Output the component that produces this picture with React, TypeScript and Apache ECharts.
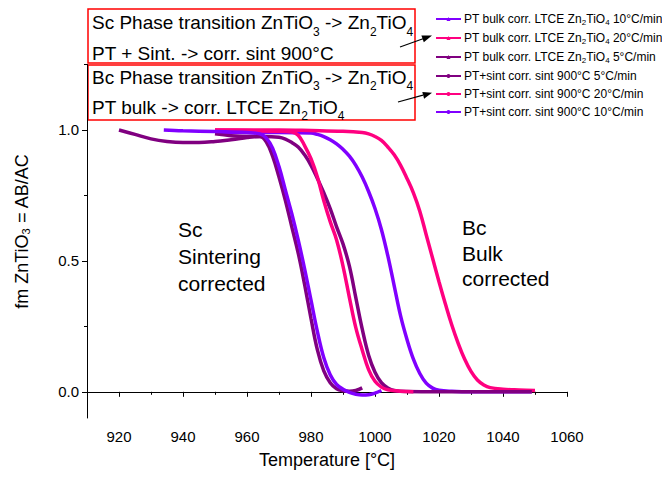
import React, { useEffect, useRef } from "react";
import * as echarts from "echarts";

// ---- data (temperature [°C], fm ZnTiO3) ----
const bulk10T = [950, 960, 970, 980, 982, 984, 986, 988, 990, 992, 994, 996, 998, 1000, 1002, 1004, 1006, 1008, 1010, 1012, 1014, 1016, 1018, 1020, 1024, 1030, 1040, 1049];
const bulk10V = [0.99, 0.99, 0.99, 0.988, 0.983, 0.975, 0.963, 0.947, 0.926, 0.9, 0.865, 0.82, 0.765, 0.7, 0.62, 0.52, 0.405, 0.29, 0.2, 0.125, 0.07, 0.033, 0.014, 0.006, 0.002, 0.0, 0.0, 0.0];

const bulk20T = [950, 960, 970, 980, 990, 996, 998, 1000, 1002, 1004, 1006, 1008, 1010, 1012, 1014, 1016, 1018, 1020, 1022, 1024, 1026, 1028, 1030, 1032, 1034, 1036, 1040, 1045, 1050];
const bulk20V = [1.0, 1.0, 1.0, 0.998, 0.995, 0.99, 0.985, 0.975, 0.96, 0.935, 0.905, 0.865, 0.815, 0.76, 0.69, 0.6, 0.51, 0.42, 0.335, 0.255, 0.185, 0.125, 0.078, 0.045, 0.026, 0.016, 0.01, 0.007, 0.005];

const bulk5T = [950, 955, 960, 965, 970, 972, 974, 976, 978, 980, 982, 984, 986, 988, 990, 992, 994, 996, 998, 1000, 1002, 1004, 1006, 1010, 1020, 1030, 1040, 1049];
const bulk5V = [0.985, 0.978, 0.975, 0.975, 0.972, 0.965, 0.952, 0.935, 0.905, 0.865, 0.815, 0.76, 0.7, 0.63, 0.565, 0.48, 0.36, 0.24, 0.14, 0.075, 0.035, 0.015, 0.005, 0.001, 0.0, 0.0, 0.0, 0.0];

const sint5T = [920, 925, 930, 935, 940, 945, 950, 955, 960, 962, 964, 966, 968, 970, 972, 974, 976, 978, 980, 982, 984, 986, 988, 990, 992, 994, 996];
const sint5V = [1.0, 0.983, 0.966, 0.956, 0.952, 0.952, 0.956, 0.963, 0.971, 0.974, 0.975, 0.955, 0.9, 0.82, 0.73, 0.63, 0.53, 0.41, 0.28, 0.16, 0.08, 0.035, 0.012, 0.004, 0.002, 0.005, 0.015];

const sint20T = [950, 960, 970, 974, 976, 978, 980, 982, 984, 986, 988, 990, 992, 994, 996, 998, 1000, 1002, 1004, 1008, 1012];
const sint20V = [1.0, 0.998, 0.995, 0.992, 0.98, 0.94, 0.89, 0.82, 0.73, 0.65, 0.58, 0.48, 0.36, 0.245, 0.16, 0.085, 0.04, 0.018, 0.008, 0.002, 0.0];

const sint10T = [934, 940, 950, 960, 964, 966, 968, 970, 972, 974, 976, 978, 980, 982, 984, 986, 988, 990, 992, 994, 996, 998, 1000, 1002];
const sint10V = [1.0, 0.997, 0.994, 0.99, 0.985, 0.97, 0.93, 0.86, 0.77, 0.68, 0.58, 0.47, 0.35, 0.23, 0.13, 0.065, 0.028, 0.01, -0.002, -0.009, -0.012, -0.011, -0.005, 0.005];

const seriesNames = [
  "PT bulk corr. LTCE Zn2TiO4 10°C/min",
  "PT bulk corr. LTCE Zn2TiO4 20°C/min",
  "PT bulk corr. LTCE Zn2TiO4 5°C/min",
  "PT+sint corr. sint 900°C 5°C/min",
  "PT+sint corr. sint 900°C 20°C/min",
  "PT+sint corr. sint 900°C 10°C/min",
];
const seriesColors = ["#8000ff", "#ff0080", "#800080", "#800080", "#ff0080", "#8000ff"];
const seriesSymbols = ["triangle", "triangle", "triangle", "circle", "circle", "circle"];
const seriesT = [bulk10T, bulk20T, bulk5T, sint5T, sint20T, sint10T];
const seriesV = [bulk10V, bulk20V, bulk5V, sint5V, sint20V, sint10V];

const xMajorTicks = [920, 940, 960, 980, 1000, 1020, 1040, 1060];
const xMinorTicks = [910, 930, 950, 970, 990, 1010, 1030, 1050];
const yMajorTicks = [0, 0.5, 1.0];
const yMinorTicks = [0.25, 0.75, 1.25];

const FONT = "Liberation Sans, Arial, sans-serif";

export default function App() {
  const ref = useRef<HTMLDivElement>(null);
  useEffect(() => {
    if (!ref.current) return;
    const chart = echarts.init(ref.current, null, { renderer: "svg" });
    const series = seriesNames.map((name, i) => ({
      name,
      type: "line",
      data: seriesT[i].map((t, j) => [t, seriesV[i][j]]),
      smooth: 0.4,
      showSymbol: false,
      symbol: seriesSymbols[i],
      symbolSize: 5,
      lineStyle: { width: 3.5, color: seriesColors[i] },
      itemStyle: { color: seriesColors[i] },
      xAxisIndex: 0,
      yAxisIndex: 0,
    }));
    const boxRich = {
      n: { fontSize: 19, fontFamily: FONT, color: "#000", lineHeight: 31 },
      s: { fontSize: 12, fontFamily: FONT, color: "#000", lineHeight: 16, verticalAlign: "bottom" },
    };
    const boxRich2 = {
      n: { fontSize: 19, fontFamily: FONT, color: "#000", lineHeight: 30 },
      s: { fontSize: 12, fontFamily: FONT, color: "#000", lineHeight: 16, verticalAlign: "bottom" },
    };
    const option = {
      animation: false,
      textStyle: { fontFamily: FONT },
      grid: { left: 87, right: 95, top: 64.5, bottom: 61 },
      legend: {
        orient: "vertical",
        left: 430,
        top: 8,
        itemWidth: 25,
        itemHeight: 5,
        itemGap: 6,
        data: seriesNames,
        formatter: (name: string) => "{n|" + name.replace("Zn2TiO4", "Zn}{s|2}{n|TiO}{s|4}{n|") + "}",
        textStyle: {
          fontSize: 12,
          fontFamily: FONT,
          color: "#000",
          padding: [0, 0, 0, -2],
          rich: {
            n: { fontSize: 12, fontFamily: FONT, color: "#000", lineHeight: 14 },
            s: { fontSize: 8, fontFamily: FONT, color: "#000", lineHeight: 9, verticalAlign: "bottom" },
          },
        },
      },
      xAxis: [
        {
          type: "value",
          min: 910,
          max: 1060,
          axisLine: { show: true, lineStyle: { color: "#000", width: 1 } },
          splitLine: { show: false },
          axisTick: { show: true, customValues: xMajorTicks, length: 5, lineStyle: { color: "#000" } },
          axisLabel: {
            customValues: xMajorTicks,
            fontSize: 15,
            fontFamily: FONT,
            color: "#000",
            margin: 11,
            formatter: (v: number) => String(v),
          },
          name: "Temperature [°C]",
          nameLocation: "middle",
          nameGap: 33,
          nameTextStyle: { fontSize: 18, fontFamily: FONT, color: "#000" },
        },
        {
          type: "value",
          min: 910,
          max: 1060,
          position: "bottom",
          axisLine: { show: false },
          splitLine: { show: false },
          axisTick: { show: true, customValues: xMinorTicks, length: 3, lineStyle: { color: "#000" } },
          axisLabel: { show: false },
        },
      ],
      yAxis: [
        {
          type: "value",
          min: -0.1,
          max: 1.25,
          axisLine: { show: true, lineStyle: { color: "#000", width: 1 } },
          splitLine: { show: false },
          axisTick: { show: true, customValues: yMajorTicks, length: 5, lineStyle: { color: "#000" } },
          axisLabel: {
            customValues: yMajorTicks,
            fontSize: 15,
            fontFamily: FONT,
            color: "#000",
            margin: 8,
            formatter: (v: number) => v.toFixed(1),
          },
          name: "fm ZnTiO{s|3} = AB/AC",
          nameLocation: "middle",
          nameGap: 56,
          nameTextStyle: {
            fontSize: 18,
            fontFamily: FONT,
            color: "#000",
            padding: [0, 0, 0, 20],
            rich: {
              s: { fontSize: 11, fontFamily: FONT, lineHeight: 14, verticalAlign: "bottom", color: "#000" },
            },
          },
        },
        {
          type: "value",
          min: -0.1,
          max: 1.25,
          position: "left",
          axisLine: { show: false },
          splitLine: { show: false },
          axisTick: { show: true, customValues: yMinorTicks, length: 3, lineStyle: { color: "#000" } },
          axisLabel: { show: false },
        },
      ],
      series,
      graphic: [
        { type: "rect", shape: { x: 88, y: 9, width: 327, height: 54 }, style: { fill: "none", stroke: "#ff0000", lineWidth: 1.5 } },
        { type: "rect", shape: { x: 88, y: 65, width: 327, height: 55 }, style: { fill: "none", stroke: "#ff0000", lineWidth: 1.5 } },
        {
          type: "text",
          x: 92,
          y: 6.5,
          style: {
            text: "{n|Sc Phase transition ZnTiO}{s|3}{n| -> Zn}{s|2}{n|TiO}{s|4}\n{n|PT + Sint. -> corr. sint 900°C}",
            rich: boxRich,
            verticalAlign: "top",
            align: "left",
          },
        },
        {
          type: "text",
          x: 92,
          y: 62,
          style: {
            text: "{n|Bc Phase transition ZnTiO}{s|3}{n| -> Zn}{s|2}{n|TiO}{s|4}\n{n|PT bulk -> corr. LTCE Zn}{s|2}{n|TiO}{s|4}",
            rich: boxRich2,
            verticalAlign: "top",
            align: "left",
          },
        },
        { type: "line", shape: { x1: 400, y1: 47, x2: 423, y2: 38.8 }, style: { stroke: "#000", lineWidth: 1.2 } },
        { type: "polygon", shape: { points: [[432, 35.6], [423.8, 42.2], [421.4, 35.6]] }, style: { fill: "#000" } },
        { type: "line", shape: { x1: 398, y1: 102, x2: 423, y2: 95.2 }, style: { stroke: "#000", lineWidth: 1.2 } },
        { type: "polygon", shape: { points: [[432, 92.7], [424.1, 98.7], [422.3, 91.9]] }, style: { fill: "#000" } },
        {
          type: "text",
          x: 178,
          y: 215.5,
          style: { text: "Sc\nSintering\ncorrected", fontSize: 21, lineHeight: 27, fill: "#000", fontFamily: FONT, verticalAlign: "top" },
        },
        {
          type: "text",
          x: 462,
          y: 215,
          style: { text: "Bc\nBulk\ncorrected", fontSize: 21, lineHeight: 25.5, fill: "#000", fontFamily: FONT, verticalAlign: "top" },
        },
      ],
    };
    chart.setOption(option as any);
    return () => chart.dispose();
  }, []);
  return <div ref={ref} style={{ width: 662, height: 479, position: "absolute", left: 0, top: 0 }} />;
}
